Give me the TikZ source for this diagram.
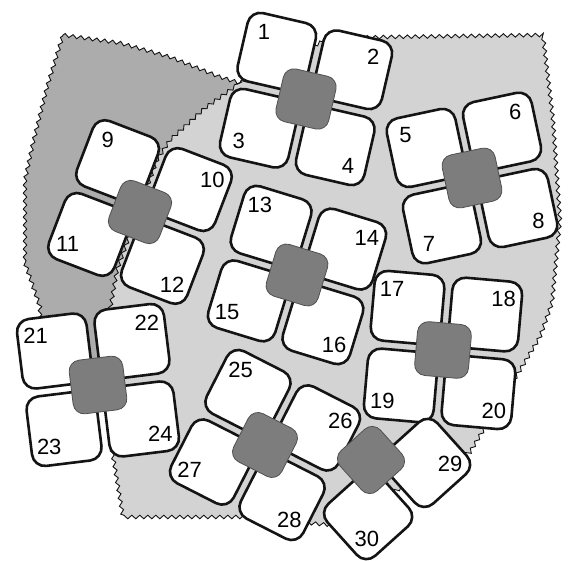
\documentclass[tikz,border=0pt]{standalone}
\usepackage{fontspec}
\setmainfont{Liberation Sans}
\usetikzlibrary{decorations.pathmorphing}
\definecolor{ink}{RGB}{20,20,20}
\definecolor{regiondark}{RGB}{172,172,172}
\definecolor{regionlight}{RGB}{211,211,211}
\definecolor{corefill}{RGB}{125,125,125}
\definecolor{coreline}{RGB}{80,80,80}

% one flower: name, x, y, angle, list of petals sx/sy/number
\newcommand{\flower}[5]{%
  \begin{scope}[shift={(#2,#3)},rotate=#4]
    \foreach \sx/\sy/\num in {#5}{
      \node[petal] (p\num) at (\sx*39,\sy*39) {};
      \node[num] (n\num) at (\sx*56,\sy*56) {\num};
    }
    \node[core] (#1) at (0,0) {};
  \end{scope}}

\begin{document}
\begin{tikzpicture}[x=1pt,y=-1pt]
\tikzset{petal/.style={draw=ink,fill=white,line width=2.6pt,rounded corners=13pt,minimum size=70pt,inner sep=0pt,transform shape},
  core/.style={draw=coreline,fill=corefill,line width=0.8pt,rounded corners=11pt,minimum size=54pt,inner sep=0pt,transform shape},
  num/.style={font=\fontsize{22}{22}\selectfont,inner sep=0pt},
  edge/.style={draw=ink,line width=0.9pt,decorate,decoration={zigzag,segment length=8pt,amplitude=1.8pt}}}
\useasboundingbox (0,0) rectangle (571,561);

% background regions
\path[edge,fill=regionlight] (240,83) -- (305,50) -- (330,38) -- (385,37) -- (543,35) -- (553,120)
  -- (560,220) -- (552,303) -- (540,337) -- (517,375) -- (470,452) -- (330,525) -- (243,517)
  -- (123,517) -- (112,450) -- (110,400) -- (110,310) -- (90,250) -- (100,170) -- (170,105) -- cycle;
\path[edge,fill=regiondark] (63,35) -- (120,43) -- (170,57) -- (220,77) -- (240,83) -- (205,108)
  -- (170,140) -- (157,160) -- (117,270) -- (110,310) -- (105,365) -- (40,360) -- (40,307)
  -- (25,263) -- (25,180) -- (33,143) -- (47,87) -- cycle;

% flowers
\flower{fa}{306}{99}{-13}{-1/-1/1, 1/-1/2, -1/1/3, 1/1/4}
\flower{fb}{472}{178}{12}{-1/-1/5, 1/-1/6, -1/1/7, 1/1/8}
\flower{fc}{140}{212}{-21}{-1/-1/9, 1/-1/10, -1/1/11, 1/1/12}
\flower{fd}{297}{275}{-17}{-1/-1/13, 1/-1/14, -1/1/15, 1/1/16}
\flower{fe}{443}{350}{-5}{-1/-1/17, 1/-1/18, -1/1/19, 1/1/20}
\flower{ff}{98}{385}{7}{-1/-1/21, 1/-1/22, -1/1/23, 1/1/24}
\flower{fg}{265}{445}{-27}{-1/-1/25, 1/-1/26, -1/1/27, 1/1/28}
\flower{fh}{371}{460}{42}{1/1/29, -1/1/30}
\end{tikzpicture}
\end{document}
